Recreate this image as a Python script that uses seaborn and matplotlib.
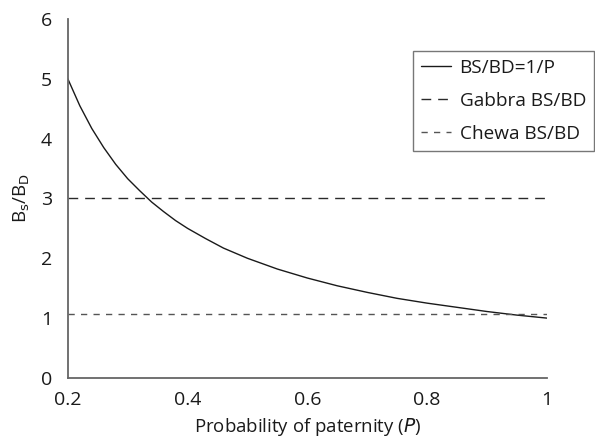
import matplotlib
matplotlib.use("Agg")
import matplotlib.pyplot as plt
import seaborn as sns
import pandas as pd

# Data
p_values = [0.20, 0.22, 0.24, 0.26, 0.28, 0.30, 0.32, 0.34, 0.36, 0.38, 0.40,
            0.43, 0.46, 0.50, 0.55, 0.60, 0.65, 0.70, 0.75, 0.80, 0.85, 0.90,
            0.95, 1.00]
ratio_values = [5.00, 4.55, 4.17, 3.85, 3.57, 3.33, 3.13, 2.94, 2.78, 2.63, 2.50,
                2.33, 2.17, 2.00, 1.82, 1.67, 1.54, 1.43, 1.33, 1.25, 1.18, 1.11,
                1.05, 1.00]
gabbra_value = 3.0
chewa_value = 1.07
x_ticks = [0.2, 0.4, 0.6, 0.8, 1.0]
x_tick_labels = ["0.2", "0.4", "0.6", "0.8", "1"]
y_ticks = [0, 1, 2, 3, 4, 5, 6]
series_labels = ["BS/BD=1/P", "Gabbra BS/BD", "Chewa BS/BD"]

sns.set_style("white")
plt.rcParams['font.family'] = ['Open Sans', 'DejaVu Sans']
plt.rcParams['mathtext.default'] = 'regular'

fig = plt.figure(figsize=(5.95, 4.42), dpi=100)
ax = fig.add_axes([0.114, 0.145, 0.805, 0.812])

df = pd.DataFrame({"P": p_values, "ratio": ratio_values})
sns.lineplot(data=df, x="P", y="ratio", ax=ax, color="#1a1a1a", lw=1.0,
             label=series_labels[0])
ax.plot([x_ticks[0], x_ticks[-1]], [gabbra_value, gabbra_value], color="#2a2a2a",
        lw=1.0, dashes=(7, 5), label=series_labels[1])
ax.plot([x_ticks[0], x_ticks[-1]], [chewa_value, chewa_value], color="#555555",
        lw=1.0, dashes=(4.5, 4.5), label=series_labels[2])

ax.set_xlim(0.2, 1.0)
ax.set_ylim(0, 6)
ax.set_xticks(x_ticks)
ax.set_xticklabels(x_tick_labels)
ax.set_yticks(y_ticks)

for s in ["top", "right"]:
    ax.spines[s].set_visible(False)
for s in ["left", "bottom"]:
    ax.spines[s].set_color("#666666")
    ax.spines[s].set_linewidth(1.3)

ax.tick_params(axis="both", direction="inout", length=7, width=1.0,
               color="#444444", labelsize=14, labelcolor="#1a1a1a")
ax.tick_params(axis="x", pad=6)
ax.tick_params(axis="y", pad=8)
ax.set_xlabel("Probability of paternity ($\\it{P}$)", fontsize=13.4, color="#1a1a1a",
              labelpad=5)
ax.set_ylabel("B$_\\mathrm{s}$/B$_\\mathrm{D}$", fontsize=13.5, color="#1a1a1a",
              labelpad=7)

leg = ax.legend(loc="upper left", bbox_to_anchor=(413 / 595, 1 - 51 / 442),
                bbox_transform=fig.transFigure, frameon=True, fancybox=False,
                fontsize=13.7, handlelength=1.6, handletextpad=0.45,
                labelspacing=0.8, borderpad=0.4, borderaxespad=0)
leg.get_frame().set_edgecolor("#555555")
leg.get_frame().set_linewidth(1.0)
for t in leg.get_texts():
    t.set_color("#1a1a1a")

fig.savefig("out.png", dpi=100)
